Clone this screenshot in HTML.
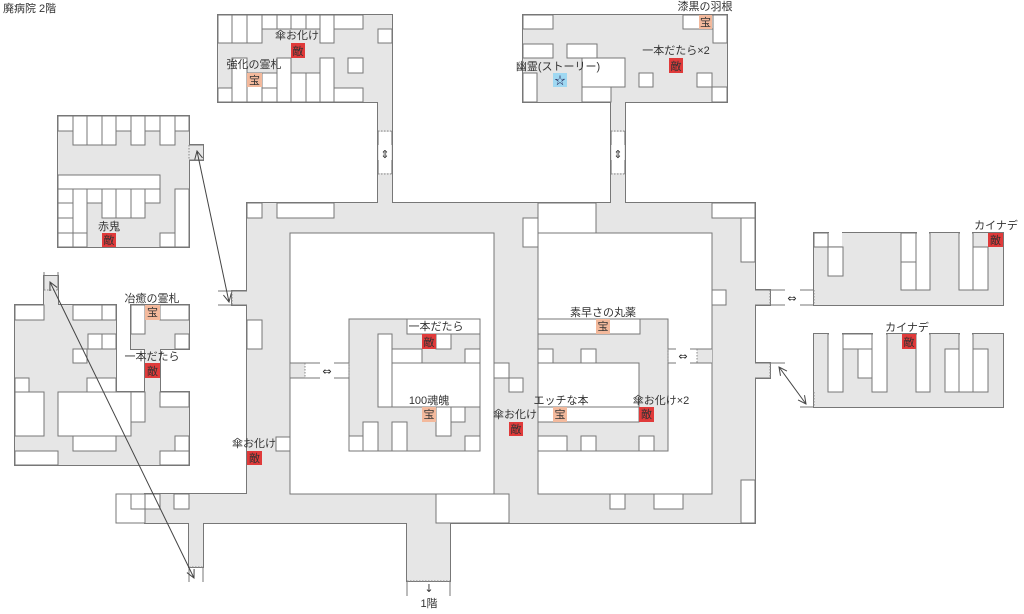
<!DOCTYPE html>
<html><head><meta charset="utf-8"><style>
html,body{margin:0;padding:0;background:#fff;}
svg{display:block;}
text{font-family:"Liberation Sans","Noto Sans CJK JP",sans-serif;font-size:11px;fill:#333;}
.ar{font-family:"DejaVu Sans",sans-serif;font-size:11px;}
.gs{fill:#e6e6e6;stroke:#777;stroke-width:2;}
.gs1{fill:#e6e6e6;stroke:#777;stroke-width:1;}
.gf{fill:#e6e6e6;stroke:none;}
.w{fill:#fff;stroke:#777;stroke-width:1;}
.l{stroke:#777;stroke-width:1;fill:none;}
.d{stroke:#888;stroke-width:1;stroke-dasharray:1.5 1.5;fill:none;}
.e{fill:#e03a3a;}
.t{fill:#f3b99c;}
.s{fill:#9fd8f2;}
</style></head><body>
<svg width="1024" height="614" viewBox="0 0 1024 614" xmlns="http://www.w3.org/2000/svg">
<defs>
<marker id="ah" markerWidth="10" markerHeight="10" refX="9" refY="5" orient="auto-start-reverse" markerUnits="userSpaceOnUse"><path d="M1,1 L9,5 L1,9" fill="none" stroke="#444" stroke-width="1"/></marker>
</defs>
<text x="3" y="12">廃病院 2階</text>

<g class="gs">
<rect x="218" y="15" width="174" height="87"/>
<rect x="523" y="15" width="204" height="87"/>
<rect x="378" y="102" width="14" height="101"/>
<rect x="611" y="102" width="14" height="101"/>
<rect x="58" y="116" width="131" height="131"/>
<rect x="189" y="145" width="14" height="15"/>
<rect x="247" y="203" width="508" height="320"/>
<rect x="407" y="523" width="43" height="58"/>
<rect x="145" y="494" width="102" height="29"/>
<rect x="189" y="523" width="14" height="44"/>
<rect x="232" y="291" width="15" height="14"/>
<rect x="755" y="290" width="15" height="15"/>
<rect x="755" y="363" width="15" height="15"/>
<rect x="15" y="305" width="101" height="87"/>
<rect x="15" y="392" width="174" height="73"/>
<rect x="131" y="305" width="58" height="44"/>
<rect x="145" y="349" width="15" height="43"/>
<rect x="44" y="276" width="14" height="29"/>
<rect x="814" y="233" width="189" height="72"/>
<rect x="814" y="334" width="189" height="73"/>
</g>
<g class="gf">
<rect x="218" y="15" width="174" height="87"/>
<rect x="523" y="15" width="204" height="87"/>
<rect x="378" y="100" width="14" height="105"/>
<rect x="611" y="100" width="14" height="105"/>
<rect x="58" y="116" width="131" height="131"/>
<rect x="187" y="145" width="16" height="15"/>
<rect x="247" y="203" width="508" height="320"/>
<rect x="407" y="521" width="43" height="60"/>
<rect x="145" y="494" width="104" height="29"/>
<rect x="189" y="521" width="14" height="46"/>
<rect x="232" y="291" width="17" height="14"/>
<rect x="753" y="290" width="17" height="15"/>
<rect x="753" y="363" width="17" height="15"/>
<rect x="15" y="305" width="101" height="89"/>
<rect x="15" y="392" width="174" height="73"/>
<rect x="131" y="305" width="58" height="44"/>
<rect x="145" y="347" width="15" height="47"/>
<rect x="44" y="276" width="14" height="31"/>
<rect x="814" y="233" width="189" height="72"/>
<rect x="814" y="334" width="189" height="73"/>
</g>

<g class="w">
<rect x="218" y="15" width="14" height="28"/><rect x="232" y="15" width="15" height="28"/><rect x="247" y="15" width="15" height="28"/>
<rect x="262" y="15" width="15" height="14"/><rect x="277" y="15" width="14" height="14"/><rect x="291" y="15" width="15" height="14"/><rect x="306" y="15" width="14" height="14"/>
<rect x="320" y="15" width="14" height="28"/><rect x="334" y="15" width="29" height="14"/><rect x="378" y="29" width="14" height="14"/>
<rect x="218" y="88" width="14" height="14"/><rect x="232" y="58" width="15" height="44"/><rect x="247" y="73" width="15" height="29"/>
<rect x="262" y="73" width="15" height="15"/><rect x="262" y="88" width="15" height="14"/><rect x="277" y="58" width="14" height="44"/>
<rect x="291" y="73" width="15" height="29"/><rect x="306" y="73" width="14" height="29"/><rect x="320" y="58" width="14" height="44"/>
<rect x="334" y="88" width="29" height="14"/><rect x="348" y="58" width="15" height="15"/>
<rect x="523" y="15" width="30" height="14"/><rect x="683" y="15" width="30" height="14"/><rect x="713" y="15" width="14" height="28"/>
<rect x="523" y="44" width="30" height="14"/><rect x="567" y="44" width="30" height="14"/>
<rect x="523" y="73" width="14" height="29"/><rect x="582" y="58" width="43" height="29"/><rect x="582" y="87" width="29" height="15"/>
<rect x="639" y="73" width="14" height="14"/><rect x="697" y="73" width="15" height="14"/><rect x="712" y="87" width="15" height="15"/>
<rect x="58" y="116" width="15" height="15"/><rect x="73" y="116" width="14" height="29"/><rect x="87" y="116" width="15" height="29"/><rect x="102" y="116" width="14" height="29"/>
<rect x="116" y="116" width="15" height="15"/><rect x="131" y="116" width="14" height="29"/><rect x="145" y="116" width="15" height="15"/><rect x="160" y="116" width="15" height="29"/><rect x="175" y="116" width="14" height="15"/>
<rect x="58" y="175" width="102" height="14"/>
<rect x="58" y="189" width="15" height="14"/><rect x="58" y="203" width="15" height="15"/><rect x="58" y="218" width="15" height="15"/><rect x="58" y="233" width="15" height="14"/>
<rect x="73" y="189" width="14" height="44"/><rect x="73" y="233" width="14" height="14"/>
<rect x="87" y="189" width="15" height="14"/><rect x="102" y="189" width="14" height="29"/><rect x="116" y="189" width="15" height="29"/><rect x="131" y="189" width="14" height="29"/>
<rect x="145" y="189" width="15" height="14"/><rect x="175" y="189" width="14" height="58"/><rect x="160" y="233" width="15" height="14"/>
<rect x="15" y="305" width="29" height="15"/><rect x="73" y="305" width="29" height="15"/><rect x="102" y="305" width="14" height="15"/>
<rect x="88" y="334" width="14" height="15"/><rect x="102" y="334" width="14" height="15"/><rect x="73" y="349" width="14" height="14"/>
<rect x="15" y="378" width="14" height="14"/><rect x="87" y="378" width="29" height="14"/>
<rect x="15" y="392" width="29" height="44"/><rect x="58" y="392" width="73" height="44"/><rect x="131" y="392" width="14" height="30"/><rect x="160" y="392" width="29" height="15"/>
<rect x="73" y="436" width="43" height="15"/><rect x="15" y="451" width="43" height="14"/>
<rect x="175" y="436" width="14" height="15"/><rect x="160" y="451" width="29" height="14"/>
<rect x="131" y="305" width="14" height="29"/><rect x="160" y="305" width="29" height="15"/><rect x="175" y="334" width="14" height="15"/>
<rect x="247" y="203" width="15" height="15"/><rect x="277" y="203" width="57" height="15"/>
<rect x="290" y="233" width="204" height="261"/><rect x="538" y="233" width="174" height="261"/>
<rect x="538" y="203" width="58" height="30"/><rect x="523" y="218" width="15" height="29"/>
<rect x="712" y="203" width="43" height="15"/><rect x="741" y="218" width="14" height="44"/>
<rect x="712" y="290" width="14" height="15"/><rect x="247" y="320" width="15" height="29"/><rect x="276" y="437" width="14" height="14"/>
<rect x="436" y="494" width="73" height="29"/><rect x="610" y="494" width="15" height="15"/><rect x="654" y="494" width="29" height="15"/>
<rect x="741" y="480" width="14" height="43"/><rect x="494" y="363" width="15" height="15"/><rect x="509" y="378" width="14" height="14"/>
<rect x="116" y="494" width="29" height="29"/><rect x="131" y="494" width="14" height="15"/><rect x="145" y="494" width="15" height="15"/><rect x="174" y="494" width="15" height="15"/>
</g>

<g class="gs1"><rect x="349" y="319" width="131" height="132"/><rect x="538" y="319" width="130" height="132"/></g>
<g class="gf"><rect x="291" y="363" width="14" height="15"/><rect x="697" y="349" width="15" height="14"/></g>
<g class="w">
<rect x="407" y="319" width="73" height="15"/><rect x="436" y="334" width="15" height="15"/><rect x="378" y="334" width="14" height="73"/>
<rect x="392" y="349" width="30" height="14"/><rect x="465" y="349" width="15" height="14"/><rect x="392" y="363" width="88" height="44"/>
<rect x="349" y="436" width="14" height="15"/><rect x="363" y="422" width="15" height="29"/><rect x="392" y="422" width="15" height="29"/>
<rect x="436" y="407" width="15" height="29"/><rect x="451" y="407" width="14" height="15"/><rect x="465" y="436" width="15" height="15"/>
<rect x="538" y="319" width="102" height="15"/><rect x="538" y="349" width="15" height="14"/><rect x="581" y="349" width="15" height="14"/>
<rect x="538" y="363" width="101" height="44"/><rect x="538" y="407" width="101" height="15"/>
<rect x="538" y="436" width="29" height="15"/><rect x="581" y="436" width="15" height="15"/><rect x="639" y="436" width="15" height="15"/>
<rect x="814" y="233" width="14" height="14"/><rect x="828" y="247" width="15" height="29"/>
<rect x="901" y="233" width="15" height="29"/><rect x="901" y="262" width="15" height="28"/><rect x="916" y="233" width="14" height="57"/>
<rect x="959" y="233" width="14" height="57"/><rect x="973" y="247" width="15" height="43"/>
<rect x="828" y="334" width="15" height="58"/><rect x="843" y="334" width="29" height="15"/><rect x="858" y="349" width="14" height="29"/>
<rect x="872" y="334" width="15" height="58"/><rect x="916" y="334" width="14" height="58"/><rect x="945" y="349" width="14" height="43"/>
<rect x="959" y="334" width="14" height="58"/><rect x="973" y="349" width="15" height="43"/>
</g>
<g fill="#fff">
<rect x="829" y="231" width="13" height="15"/><rect x="917" y="231" width="12" height="3"/><rect x="960" y="231" width="12" height="3"/>
<rect x="829" y="332" width="13" height="3"/><rect x="873" y="332" width="13" height="3"/><rect x="917" y="332" width="12" height="3"/><rect x="960" y="332" width="12" height="3"/>
</g>

<g class="l">
<line x1="218" y1="291" x2="247" y2="291"/><line x1="218" y1="305" x2="247" y2="305"/>
<line x1="189" y1="145" x2="203" y2="145"/><line x1="189" y1="160" x2="203" y2="160"/>
<line x1="755" y1="290" x2="785" y2="290"/><line x1="755" y1="305" x2="785" y2="305"/><line x1="800" y1="290" x2="814" y2="290"/><line x1="800" y1="305" x2="814" y2="305"/>
<line x1="755" y1="363" x2="785" y2="363"/><line x1="755" y1="378" x2="770" y2="378"/><line x1="800" y1="407" x2="814" y2="407"/>
<line x1="407" y1="581" x2="407" y2="596"/><line x1="450" y1="581" x2="450" y2="596"/>
<line x1="44" y1="272" x2="44" y2="290"/><line x1="58" y1="272" x2="58" y2="290"/>
<line x1="189" y1="567" x2="189" y2="582"/><line x1="203" y1="567" x2="203" y2="582"/>
</g>
<g fill="#fff"><rect x="379" y="132" width="12" height="41"/><rect x="612" y="132" width="12" height="41"/><rect x="306" y="364" width="42" height="13"/><rect x="669" y="350" width="27" height="12"/><rect x="771" y="291" width="42" height="13"/></g>
<g class="l">
<line x1="378" y1="131" x2="378" y2="145"/><line x1="392" y1="131" x2="392" y2="145"/><line x1="378" y1="160" x2="378" y2="174"/><line x1="392" y1="160" x2="392" y2="174"/>
<line x1="611" y1="131" x2="611" y2="145"/><line x1="625" y1="131" x2="625" y2="145"/><line x1="611" y1="160" x2="611" y2="174"/><line x1="625" y1="160" x2="625" y2="174"/>
<line x1="290" y1="363" x2="320" y2="363"/><line x1="290" y1="378" x2="320" y2="378"/><line x1="334" y1="363" x2="349" y2="363"/><line x1="334" y1="378" x2="349" y2="378"/>
<line x1="668" y1="349" x2="676" y2="349"/><line x1="668" y1="363" x2="676" y2="363"/><line x1="690" y1="349" x2="712" y2="349"/><line x1="690" y1="363" x2="712" y2="363"/>
</g>
<g class="d">
<line x1="232" y1="291" x2="232" y2="305"/><line x1="189" y1="145" x2="189" y2="160"/>
<line x1="770" y1="290" x2="770" y2="305"/><line x1="814" y1="290" x2="814" y2="305"/>
<line x1="770" y1="363" x2="770" y2="378"/><line x1="814" y1="392" x2="814" y2="407"/>
<line x1="305" y1="363" x2="305" y2="378"/><line x1="349" y1="363" x2="349" y2="378"/>
<line x1="668" y1="349" x2="668" y2="363"/><line x1="697" y1="349" x2="697" y2="363"/>
<line x1="378" y1="131" x2="392" y2="131"/><line x1="378" y1="174" x2="392" y2="174"/>
<line x1="611" y1="131" x2="625" y2="131"/><line x1="611" y1="174" x2="625" y2="174"/>
<line x1="407" y1="581" x2="450" y2="581"/><line x1="44" y1="290" x2="58" y2="290"/><line x1="189" y1="567" x2="203" y2="567"/>
</g>

<g stroke="#444" stroke-width="1" fill="none">
<line x1="197" y1="151" x2="229" y2="302" marker-start="url(#ah)" marker-end="url(#ah)"/>
<line x1="50" y1="282" x2="194" y2="578" marker-start="url(#ah)" marker-end="url(#ah)"/>
<line x1="779" y1="367" x2="806" y2="404" marker-start="url(#ah)" marker-end="url(#ah)"/>
</g>
<g text-anchor="middle">
<text class="ar" x="385" y="158">⇕</text><text class="ar" x="618" y="158">⇕</text>
<text class="ar" x="327" y="375">⇔</text><text class="ar" x="683" y="360">⇔</text><text class="ar" x="792" y="302">⇔</text>
<text class="ar" x="429" y="592">↓</text><text x="429" y="607">1階</text>
</g>

<rect class="e" x="291" y="43" width="14" height="15"/>
<rect class="t" x="247" y="73" width="15" height="14"/>
<rect class="t" x="699" y="15" width="13" height="14"/>
<rect class="e" x="669" y="58" width="14" height="15"/>
<rect class="s" x="553" y="73" width="14" height="14"/>
<rect class="e" x="102" y="233" width="14" height="14"/>
<rect class="t" x="145" y="305" width="15" height="15"/>
<rect class="e" x="145" y="363" width="15" height="15"/>
<rect class="e" x="247" y="451" width="15" height="14"/>
<rect class="e" x="422" y="334" width="14" height="15"/>
<rect class="t" x="422" y="407" width="14" height="15"/>
<rect class="e" x="509" y="422" width="14" height="14"/>
<rect class="t" x="596" y="319" width="14" height="15"/>
<rect class="t" x="553" y="407" width="14" height="15"/>
<rect class="e" x="639" y="407" width="15" height="15"/>
<rect class="e" x="988" y="233" width="15" height="14"/>
<rect class="e" x="902" y="334" width="14" height="15"/>
<g text-anchor="middle" style="font-size:10px">
<text x="298" y="55">敵</text><text x="254.5" y="84">宝</text><text x="705.5" y="26">宝</text><text x="676" y="70">敵</text><text x="560" y="84" style="fill:#225">☆</text>
<text x="109" y="244">敵</text><text x="152.5" y="316">宝</text><text x="152.5" y="375">敵</text><text x="254.5" y="462">敵</text>
<text x="429" y="346">敵</text><text x="429" y="418">宝</text><text x="516" y="433">敵</text><text x="603" y="330">宝</text><text x="560" y="418">宝</text><text x="646.5" y="418">敵</text>
<text x="995.5" y="244">敵</text><text x="909" y="346">敵</text>
</g>

<g text-anchor="middle">
<text x="297" y="39">傘お化け</text><text x="254" y="68">強化の霊札</text>
<text x="705" y="10">漆黒の羽根</text><text x="676" y="54">一本だたら×2</text><text x="558" y="70">幽霊(ストーリー)</text>
<text x="109" y="230">赤鬼</text><text x="152" y="302">冶癒の霊札</text><text x="152" y="360">一本だたら</text><text x="254" y="447">傘お化け</text>
<text x="436" y="330">一本だたら</text><text x="429" y="404">100魂魄</text><text x="515" y="418">傘お化け</text>
<text x="603" y="316">素早さの丸薬</text><text x="561" y="404">エッチな本</text><text x="661" y="404">傘お化け×2</text>
<text x="996" y="229">カイナデ</text><text x="907" y="331">カイナデ</text>
</g>
</svg>
</body></html>
